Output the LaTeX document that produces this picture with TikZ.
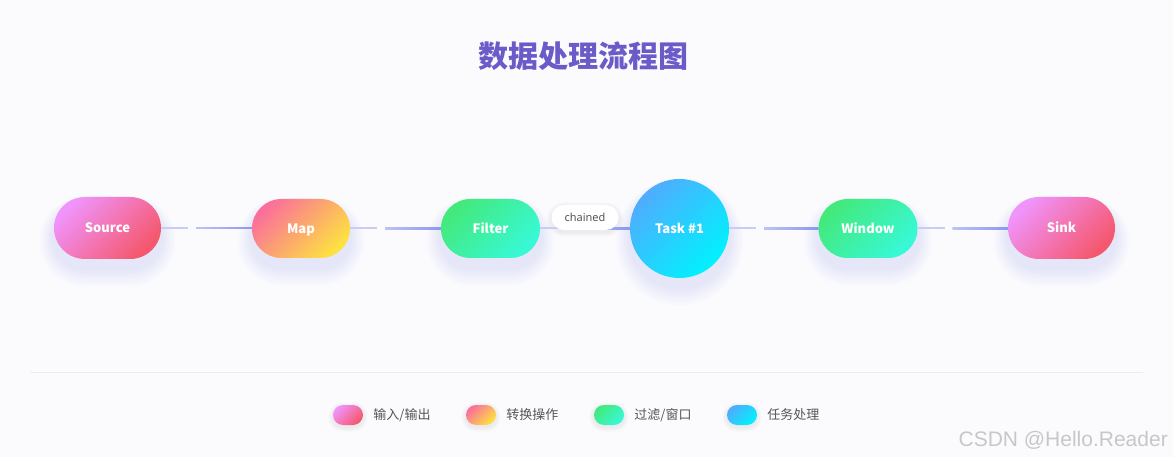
\documentclass[tikz,border=0pt]{standalone}
\usepackage{fontspec}
\setmainfont{Noto Sans}
\newfontfamily\cjk{Noto Sans CJK SC}
\newfontfamily\markfont{Liberation Sans}
\usetikzlibrary{calc, backgrounds, positioning}

\definecolor{pageback}{HTML}{FBFBFE}
\definecolor{titlepurple}{HTML}{6A5BC8}
\definecolor{ioA}{HTML}{F093FB}
\definecolor{ioB}{HTML}{F5576C}
\definecolor{mapA}{HTML}{FA709A}
\definecolor{mapB}{HTML}{FEE140}
\definecolor{filtA}{HTML}{43E97B}
\definecolor{filtB}{HTML}{38F9D7}
\definecolor{taskA}{HTML}{4FACFE}
\definecolor{taskB}{HTML}{00F2FE}
\definecolor{linklight}{HTML}{C8CDF6}
\definecolor{linkmid}{HTML}{BCC3F5}
\definecolor{linkend}{HTML}{8A98EE}
\definecolor{glowblue}{HTML}{A3ADF2}
\definecolor{legendtext}{HTML}{555555}
\definecolor{rulegray}{HTML}{ECECF1}

\tikzset{
  stage/.style={rectangle, inner sep=0pt, text=white, text height=9.6pt, text depth=0.4pt, font=\cjk\bfseries\fontsize{13}{16}\selectfont},
  diag/.style 2 args={top color=#1, bottom color=#2, shading angle=45},
  io stage/.style={stage, minimum width=107pt, minimum height=62pt, rounded corners=31pt, diag={ioA}{ioB}},
  map stage/.style={stage, minimum width=98pt, minimum height=59pt, rounded corners=29.5pt, diag={mapA}{mapB}},
  filter stage/.style={stage, minimum width=99pt, minimum height=59pt, rounded corners=29.5pt, diag={filtA}{filtB}},
  task stage/.style={stage, circle, minimum size=99pt, diag={taskA}{taskB}},
  swatch/.style={rectangle, inner sep=0pt, minimum width=30pt, minimum height=20pt, rounded corners=10pt},
  keytext/.style={inner sep=0pt, text=legendtext, font=\cjk\fontsize{13}{16}\selectfont},
  linkfade/.style={linklight, line width=2pt}
}

\newcommand{\stageglow}[3]{%
  \foreach \k in {1,...,7}
    \fill[glowblue, opacity=0.035, rounded corners=#3pt+\k*2pt]
      ($(#1.center)+(-#2-\k*2, #3+\k*2.6+9)$) rectangle ($(#1.center)+(#2+\k*2, -#3-\k*1.4+9)$);
}
\newcommand{\flowlink}[2]{%
  \draw[linkfade] (#1.east) -- ++(27,0);
  \shade[left color=linkmid, right color=linkend] ($(#1.east)+(35,0.9)$) rectangle ($(#2.west)+(0,-0.9)$);
}

\begin{document}
\begin{tikzpicture}[x=1pt, y=-1pt]
\useasboundingbox (0,0) rectangle (1173,457);

\node[text=titlepurple, font=\cjk\bfseries\fontsize{30}{36}\selectfont] (title) at (583,56) {数据处理流程图};

\node[io stage] (source) at (107.5,228) {Source};
\node[map stage] (map) at (301,228.5) {Map};
\node[filter stage] (filter) at (490.5,228.5) {Filter};
\node[task stage] (task) at (679.5,228.5) {Task \#1};
\node[filter stage] (window) at (868,228.5) {Window};
\node[io stage] (sink) at (1061.5,228) {Sink};

\flowlink{source}{map}
\flowlink{map}{filter}
\flowlink{filter}{task}
\flowlink{task}{window}
\flowlink{window}{sink}

\node[fill=white, rectangle, rounded corners=12.5pt, minimum width=67pt, minimum height=25pt, inner sep=0pt,
  text=legendtext, font=\fontsize{11}{13}\selectfont] (chained) at (585,217.5) {chained};

\draw[rulegray, line width=1pt] (30,372) -- (1143,372);

\node[swatch, diag={ioA}{ioB}] (keyio) at (348,415) {};
\node[keytext, right=10pt of keyio] (keyiotext) {输入/输出};
\node[swatch, diag={mapA}{mapB}] (keymap) at (481,415) {};
\node[keytext, right=10pt of keymap] (keymaptext) {转换操作};
\node[swatch, diag={filtA}{filtB}] (keyfilter) at (609,415) {};
\node[keytext, right=10pt of keyfilter] (keyfiltertext) {过滤/窗口};
\node[swatch, diag={taskA}{taskB}] (keytask) at (742,415) {};
\node[keytext, right=10pt of keytask] (keytasktext) {任务处理};

\node[anchor=base east, inner sep=0pt, text=black!22, font=\markfont\fontsize{21}{24}\selectfont] (mark) at (1168,446) {CSDN @Hello.Reader};

\begin{scope}[on background layer]
\fill[pageback] (0,0) rectangle (1173,457);
\stageglow{source}{53.5}{31}
\stageglow{map}{49}{29.5}
\stageglow{filter}{49.5}{29.5}
\stageglow{task}{49.5}{49.5}
\stageglow{window}{49.5}{29.5}
\stageglow{sink}{53.5}{31}
\foreach \k in {1,...,3}
  \fill[black, opacity=0.02, rounded corners=12.5pt+\k*1.5pt]
    ($(chained.center)+(-33.5-\k*1.5, 12.5+\k*1.5+2)$) rectangle ($(chained.center)+(33.5+\k*1.5, -12.5-\k*1.5+2)$);
\foreach \s in {keyio, keymap, keyfilter, keytask}
  \foreach \k in {1,...,3}
    \fill[black, opacity=0.02, rounded corners=10pt+\k*1.5pt]
      ($(\s.center)+(-15-\k*1.5, 10+\k*1.5+2)$) rectangle ($(\s.center)+(15+\k*1.5, -10-\k*1.5+2)$);
\end{scope}
\end{tikzpicture}
\end{document}
